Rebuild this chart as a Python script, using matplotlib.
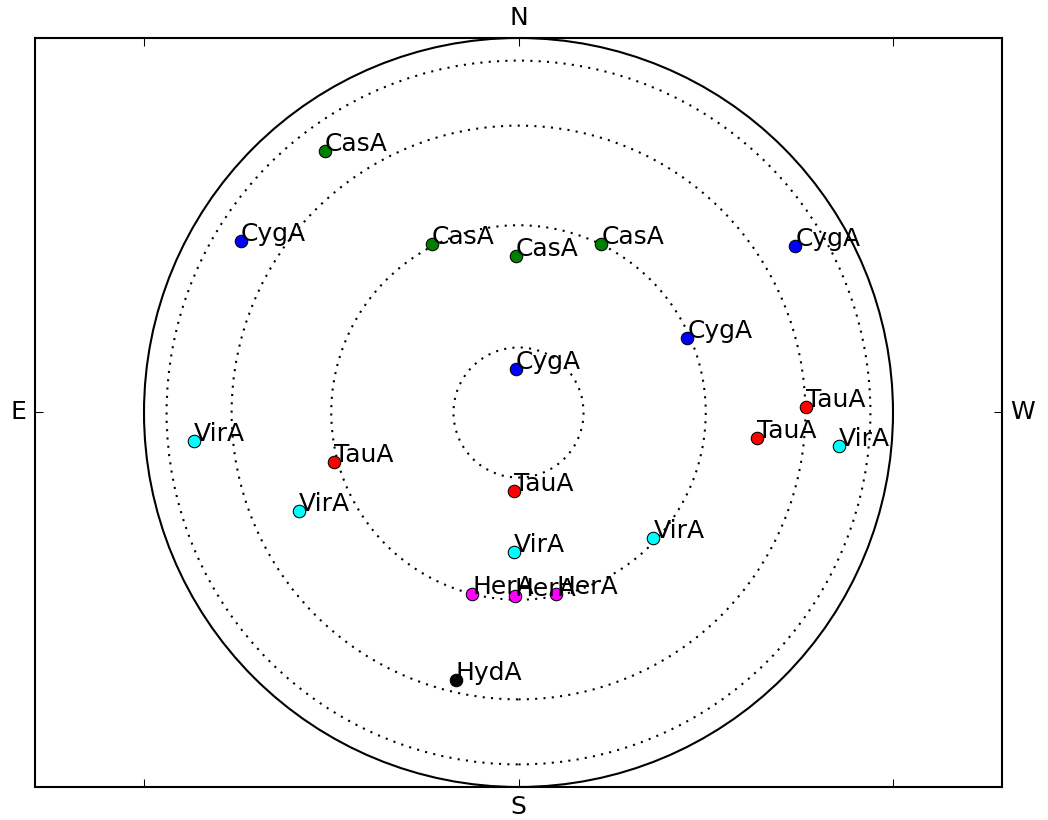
import numpy as np
import matplotlib.pyplot as plt
from matplotlib.patches import Circle

# posiciones proyectadas (x = este-oeste, y = norte-sur)
casa_x = [-0.517, -0.232, -0.007, 0.221]
casa_y = [0.698, 0.450, 0.419, 0.449]
cyga_x = [-0.741, 0.739, 0.451, -0.007]
cyga_y = [0.458, 0.445, 0.200, 0.115]
taua_x = [0.768, 0.638, -0.492, -0.012]
taua_y = [0.015, -0.069, -0.131, -0.210]
vira_x = [-0.866, 0.856, -0.587, 0.360, -0.012]
vira_y = [-0.076, -0.089, -0.262, -0.334, -0.372]
hera_x = [-0.123, -0.010, 0.101]
hera_y = [-0.485, -0.490, -0.485]
hyda_x = [-0.167]
hyda_y = [-0.713]

fuentes = [
    ("CasA", casa_x, casa_y, "green"),
    ("CygA", cyga_x, cyga_y, "blue"),
    ("TauA", taua_x, taua_y, "red"),
    ("VirA", vira_x, vira_y, "cyan"),
    ("HerA", hera_x, hera_y, "magenta"),
    ("HydA", hyda_x, hyda_y, "black"),
]

# circulos de altitud (grados)
altitudes = [80, 60, 40, 20]

plt.rcParams['font.family'] = ['DejaVu Sans']
plt.rcParams['font.size'] = 12

fig = plt.figure(figsize=(1048 / 150, 820 / 150), dpi=150)
ax = fig.add_axes([35 / 1048, 1 - 787 / 820, 967 / 1048, 749 / 820])

ax.add_patch(Circle((0, 0), 1.0, fill=False, color='black', linewidth=1.0))
for alt in altitudes:
    r = np.cos(np.radians(alt))
    ax.add_patch(Circle((0, 0), r, fill=False, color='black',
                        linewidth=1.0, linestyle=(0, (1, 3))))

for nombre, xs, ys, color in fuentes:
    ax.plot(xs, ys, 'o', color=color, markersize=6,
            markeredgecolor='black', markeredgewidth=0.5)
    for x, y in zip(xs, ys):
        ax.text(x, y, nombre)

half = 967 / 2 / 374.5
ax.set_xlim(-half, half)
ax.set_ylim(-1, 1)
ax.set_xticks([-1, 0, 1])
ax.set_yticks([-1, 0, 1])
ax.set_xticklabels([])
ax.set_yticklabels([])
ax.tick_params(direction='in', length=4, width=0.5,
               top=True, right=True, bottom=True, left=True)
for sp in ax.spines.values():
    sp.set_linewidth(1.0)

# puntos cardinales
ax.annotate("N", (0.5, 1), xycoords='axes fraction', xytext=(0, 4),
            textcoords='offset points', ha='center', va='bottom')
ax.annotate("S", (0.5, 0), xycoords='axes fraction', xytext=(0, -4),
            textcoords='offset points', ha='center', va='top')
ax.annotate("E", (0, 0.5), xycoords='axes fraction', xytext=(-4, 0),
            textcoords='offset points', ha='right', va='center')
ax.annotate("W", (1, 0.5), xycoords='axes fraction', xytext=(4, 0),
            textcoords='offset points', ha='left', va='center')

fig.savefig("out.png", dpi=150)
